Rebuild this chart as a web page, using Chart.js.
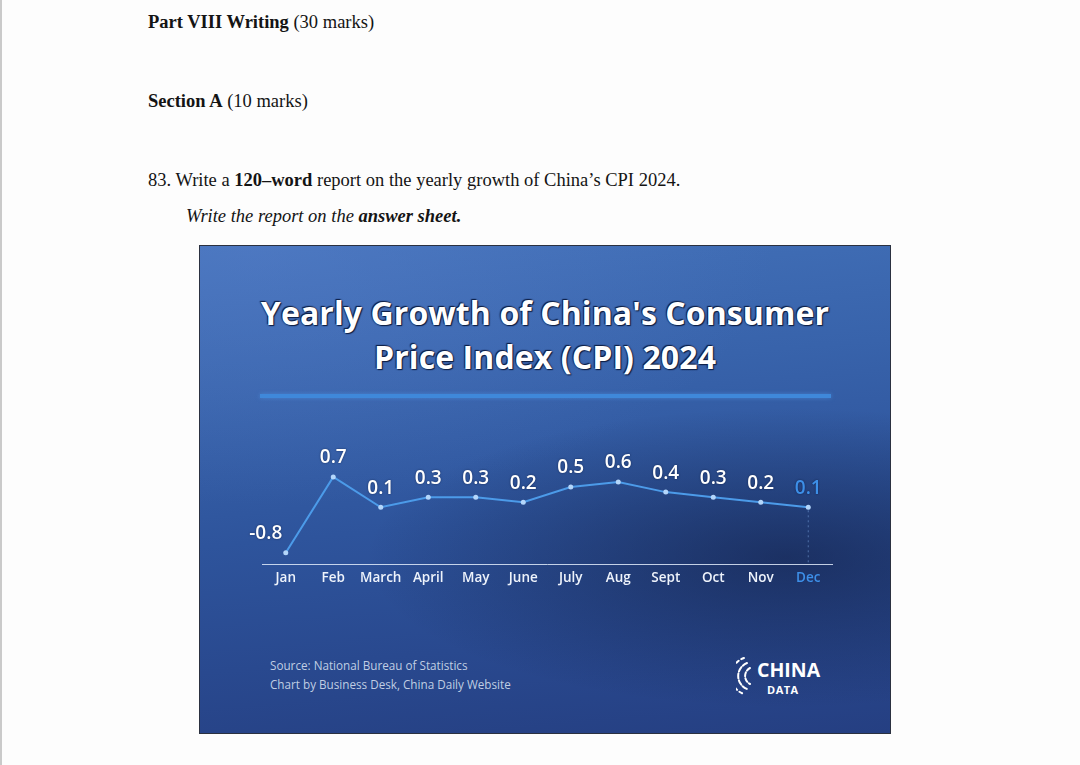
<!DOCTYPE html>
<html>
<head>
<meta charset="utf-8">
<script src="https://cdn.jsdelivr.net/npm/chart.js@4.4.1/dist/chart.umd.min.js"></script>
<style>
  html, body { margin: 0; padding: 0; }
  body {
    width: 1080px; height: 765px; position: relative; overflow: hidden;
    background: #fdfdfd; color: #141414;
    font-family: "Liberation Serif", "Times New Roman", serif;
  }
  .edge { position: absolute; left: 0; top: 0; width: 2px; height: 765px; background: #cacaca; }
  .q { position: absolute; font-size: 18.5px; line-height: 22px; white-space: nowrap; }
  #panel {
    position: absolute; left: 199px; top: 245px; width: 692px; height: 489px;
    box-sizing: border-box; border: 1px solid #2b3140; overflow: hidden;
    background:
      radial-gradient(ellipse 420px 150px at 85% 64%, rgba(14, 24, 58, 0.55), rgba(14, 24, 58, 0) 100%),
      radial-gradient(ellipse 520px 260px at 8% 0%, rgba(90, 130, 205, 0.45), rgba(90, 130, 205, 0) 100%),
      linear-gradient(175deg, #4270b8 0%, #3863ab 28%, #2e549c 55%, #29498f 78%, #253f82 100%);
  }
  #title {
    position: absolute; left: 0; top: 45px; width: 100%; text-align: center;
    font: 700 32px/44px "Open Sans", sans-serif; letter-spacing: 0.1px; color: #fff;
    text-shadow: 0 0 2px #0d1d42, 1px 1px 1px #0d1d42, -1px -1px 1px #0d1d42;
  }
  #bar {
    position: absolute; left: 60px; top: 148px; width: 571px; height: 4px;
    background: #3f88da; box-shadow: 0 0 4px rgba(80, 150, 230, 0.6);
  }
  #wrap { position: absolute; left: 40px; top: 184px; width: 620px; height: 170px; }
  #source {
    position: absolute; left: 70px; top: 410px;
    font: 400 11.7px/19px "Open Sans", sans-serif; color: rgba(222, 230, 245, 0.85);
  }
  #logo { position: absolute; left: 536px; top: 408px; width: 100px; height: 44px; color: #fff; }
  #logo .c { position: absolute; left: 21px; top: 7px; font: 700 19.5px/18px "Open Sans", sans-serif; }
  #logo .d { position: absolute; left: 31px; top: 30px; font: 700 11px/11px "Open Sans", sans-serif; letter-spacing: 0.5px; }
</style>
</head>
<body>
<div class="edge"></div>
<div class="q" style="left:148px; top:11px;"><b>Part VIII Writing</b> (30 marks)</div>
<div class="q" style="left:148px; top:90px;"><b>Section A</b> (10 marks)</div>
<div class="q" style="left:148px; top:169px;">83. Write a <b>120–word</b> report on the yearly growth of China’s CPI 2024.</div>
<div class="q" style="left:186px; top:205px;"><i>Write the report on the <b>answer sheet.</b></i></div>

<div id="panel">
  <div id="title">Yearly Growth of China's Consumer<br>Price Index (CPI) 2024</div>
  <div id="bar"></div>
  <div id="wrap"><canvas id="grafico"></canvas></div>
  <div id="source">Source: National Bureau of Statistics<br>Chart by Business Desk, China Daily Website</div>
  <div id="logo">
    <svg width="24" height="44" style="position:absolute;left:0;top:0" fill="none" stroke="#fff" stroke-width="2" stroke-linecap="round">
      <path d="M 14 14 A 9 9 0 0 0 14 30" stroke-dasharray="4 2"/>
      <path d="M 11 9 A 14 14 0 0 0 11 35" stroke-dasharray="5 2"/>
      <path d="M 8 4 A 19 19 0 0 0 8 40" stroke-dasharray="3 3"/>
    </svg>
    <div class="c">CHINA</div>
    <div class="d">DATA</div>
  </div>
</div>

<script>
// === Dados ===
const meses = ["Jan", "Feb", "March", "April", "May", "June", "July", "Aug", "Sept", "Oct", "Nov", "Dec"];
const cpiCrescimento = [-0.8, 0.7, 0.1, 0.3, 0.3, 0.2, 0.5, 0.6, 0.4, 0.3, 0.2, 0.1];

const azulDestaque = "#3d8fe8";

// rótulos com o valor em cima de cada ponto
const rotulosPontos = {
  id: "rotulosPontos",
  beforeDatasetsDraw(chart) {
    const { ctx, chartArea } = chart;
    const pts = chart.getDatasetMeta(0).data;
    const ult = pts[pts.length - 1];
    ctx.save();
    ctx.setLineDash([2, 3]);
    ctx.strokeStyle = "rgba(120, 160, 220, 0.55)";
    ctx.lineWidth = 1;
    ctx.beginPath();
    ctx.moveTo(ult.x, ult.y + 3);
    ctx.lineTo(ult.x, chartArea.bottom);
    ctx.stroke();
    ctx.restore();
  },
  afterDatasetsDraw(chart) {
    const { ctx } = chart;
    const pts = chart.getDatasetMeta(0).data;
    ctx.save();
    ctx.font = "600 19px 'Open Sans'";
    ctx.textAlign = "center";
    ctx.textBaseline = "middle";
    ctx.shadowColor = "rgba(5, 15, 45, 0.6)";
    ctx.shadowBlur = 2;
    pts.forEach((p, i) => {
      ctx.fillStyle = i === pts.length - 1 ? azulDestaque : "#ffffff";
      const dx = i === 0 ? -20 : 0; // Jan fica à esquerda
      ctx.fillText(cpiCrescimento[i].toFixed(1), p.x + dx, p.y - 19);
    });
    ctx.restore();
  }
};

new Chart(document.getElementById("grafico"), {
  type: "line",
  data: {
    labels: meses,
    datasets: [
      {
        data: cpiCrescimento,
        borderColor: "#4c9be9",
        borderWidth: 2,
        tension: 0,
        pointRadius: 2.5,
        pointBackgroundColor: "#b4d6fa",
        pointBorderWidth: 0,
      },
    ],
  },
  options: {
    responsive: true,
    maintainAspectRatio: false,
    animation: false,
    layout: { padding: { left: 22, right: 28, top: 10, bottom: 9 } },
    plugins: { legend: { display: false }, tooltip: { enabled: false } },
    scales: {
      x: {
        offset: true,
        grid: { color: "rgba(0,0,0,0)", drawTicks: false },
        border: { display: true, color: "rgba(225, 235, 250, 0.85)", width: 1 },
        ticks: {
          padding: 5,
          font: { family: "Open Sans", size: 13.5, weight: "600" },
          color: (c) => (c.index === meses.length - 1 ? azulDestaque : "#eef3fb"),
        },
      },
      y: { display: false, min: -1.037, max: 1.43 },
    },
  },
  plugins: [rotulosPontos],
});
</script>
</body>
</html>
